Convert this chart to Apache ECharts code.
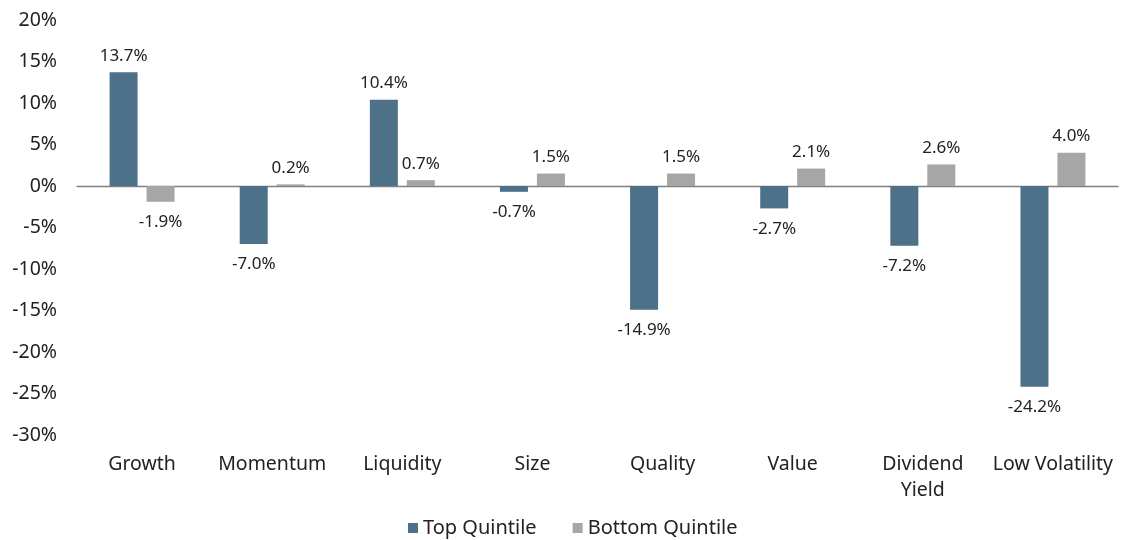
<!DOCTYPE html>
<html>
<head>
<meta charset="utf-8">
<script src="https://cdn.jsdelivr.net/npm/echarts@6/dist/echarts.min.js"></script>
<style>html,body{margin:0;padding:0;background:#fff}#c{width:1121px;height:540px}</style>
</head>
<body>
<div id="c"></div>
<script>
const categories = ['Growth','Momentum','Liquidity','Size','Quality','Value','Dividend\nYield','Low Volatility'];
const topQuintile = [13.7, -7.0, 10.4, -0.7, -14.9, -2.7, -7.2, -24.2];
const bottomQuintile = [-1.9, 0.2, 0.7, 1.5, 1.5, 2.1, 2.6, 4.0];
const seriesNames = ['Top Quintile','Bottom Quintile'];
const yTicks = {min: -30, max: 20, interval: 5};

const FONT = 'Noto Sans';
const TXT = '#222';
function items(vals){
  return vals.map(v => ({value: v, label: v >= 0 ? {position: 'top', distance: 8} : {position: 'bottom', distance: 12}}));
}
const chart = echarts.init(document.getElementById('c'));
chart.setOption({
  animation: false,
  textStyle: {fontFamily: FONT},
  grid: {left: 77, right: 3, top: 20, bottom: 105},
  legend: {
    bottom: -3, left: 403, itemWidth: 10, itemHeight: 10, itemGap: 36, itemStyle: {borderWidth: 0},
    icon: 'rect',
    textStyle: {fontFamily: FONT, fontSize: 20, color: TXT},
    data: seriesNames
  },
  xAxis: [{
    type: 'category', data: categories, position: 'bottom',
    axisLine: {show: false, onZero: false}, axisTick: {show: false},
    axisLabel: {fontFamily: FONT, fontSize: 19.5, color: TXT, margin: 16, lineHeight: 26, interval: 0}
  },{
    type: 'category', data: categories, position: 'bottom',
    axisLine: {show: true, onZero: true, lineStyle: {color: '#808080', width: 1.3}},
    axisTick: {show: false}, axisLabel: {show: false}
  }],
  yAxis: {
    type: 'value', min: yTicks.min, max: yTicks.max, interval: yTicks.interval,
    axisLine: {show: false}, axisTick: {show: false}, splitLine: {show: false},
    axisLabel: {fontFamily: FONT, fontSize: 19.5, color: TXT, margin: 20, formatter: v => v + '%'}
  },
  series: [{
    name: seriesNames[0], type: 'bar', data: items(topQuintile), barWidth: 28, barGap: '32%',
    itemStyle: {color: '#4d7189'},
    label: {show: true, fontFamily: FONT, fontSize: 17, color: TXT, formatter: p => p.value.toFixed(1) + '%'}
  },{
    name: seriesNames[1], type: 'bar', data: items(bottomQuintile), barWidth: 28,
    itemStyle: {color: '#a6a6a6'},
    label: {show: true, fontFamily: FONT, fontSize: 17, color: TXT, formatter: p => p.value.toFixed(1) + '%'}
  }]
});
</script>
</body>
</html>
